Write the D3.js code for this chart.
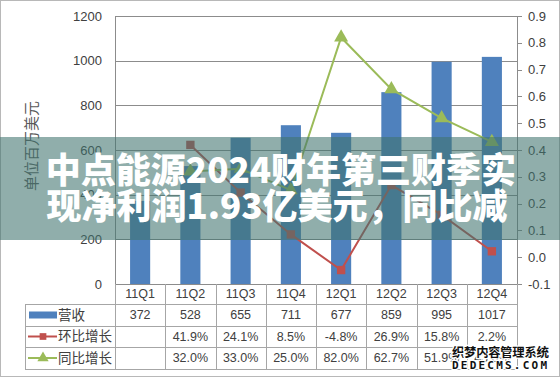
<!DOCTYPE html>
<html>
<head>
<meta charset="utf-8">
<script src="https://cdn.jsdelivr.net/npm/d3@7"></script>
<style>
body{margin:0;background:#fff;}
svg{display:block;}
</style>
</head>
<body>
<div id="chart"></div>
<script>
var categories=["11Q1","11Q2","11Q3","11Q4","12Q1","12Q2","12Q3","12Q4"];
var revenue=[372,528,655,711,677,859,995,1017];
var qoq=[null,0.419,0.241,0.085,-0.048,0.269,0.158,0.022];
var yoy=[null,0.320,0.330,0.250,0.820,0.627,0.519,0.430];
var leftTicks=[0,200,400,600,800,1000,1200];
var rightTicks=[-0.1,0,0.1,0.2,0.3,0.4,0.5,0.6,0.7,0.8,0.9];
var seriesNames=["营收","环比增长","同比增长"];
var titleLines=["中点能源2024财年第三财季实","现净利润1.93亿美元，同比减"];

var W=560,H=378,pl=115,pr=517,pt=16,pb=284;
var colBlue="#4f81bd",colRed="#c0504d",colGreen="#9bbb59";
var grid="#8c8c8c",txt="#404040";
var svg=d3.select("#chart").append("svg").attr("width",W).attr("height",H);
svg.append("rect").attr("x",0.5).attr("y",0.5).attr("width",W-1).attr("height",H-2)
   .attr("fill","#fff").attr("stroke","#b8b8b8");

var x=d3.scaleBand().domain(categories).range([pl,pr]);
var y=d3.scaleLinear().domain([0,1200]).range([pb,pt]);
var y2=d3.scaleLinear().domain([-0.1,0.9]).range([pb,pt]);
var cx=function(c){return x(c)+x.bandwidth()/2;};

// gridlines
svg.selectAll("line.grid").data(leftTicks).enter().append("line")
   .attr("x1",pl).attr("x2",pr).attr("y1",function(d){return Math.round(y(d))+0.5;})
   .attr("y2",function(d){return Math.round(y(d))+0.5;}).attr("stroke",grid).attr("stroke-width",1);
svg.append("line").attr("x1",pl+0.5).attr("x2",pl+0.5).attr("y1",pt).attr("y2",pb).attr("stroke",grid);
svg.append("line").attr("x1",pr+0.5).attr("x2",pr+0.5).attr("y1",pt).attr("y2",pb).attr("stroke",grid);
svg.selectAll("line.rt").data(rightTicks).enter().append("line")
   .attr("x1",pr).attr("x2",pr+5).attr("y1",function(d){return Math.round(y2(d))+0.5;})
   .attr("y2",function(d){return Math.round(y2(d))+0.5;}).attr("stroke",grid);

svg.selectAll("text.lt").data(leftTicks).enter().append("text")
   .attr("x",102).attr("y",function(d){return y(d);}).attr("dy","0.35em")
   .attr("text-anchor","end").attr("font-family","Liberation Sans, sans-serif")
   .attr("font-size",13).attr("fill",txt).text(function(d){return d;});
svg.selectAll("text.rtl").data(rightTicks).enter().append("text")
   .attr("x",528).attr("y",function(d){return y2(d);}).attr("dy","0.35em")
   .attr("font-family","Liberation Sans, sans-serif")
   .attr("font-size",13).attr("fill",txt).text(function(d){return d3.format(".1f")(d).replace("−","-");});

svg.append("text").attr("transform","translate(37,146) rotate(-90)")
   .attr("text-anchor","middle").attr("font-family","Noto Sans CJK SC").attr("font-size",15)
   .attr("fill","#595959").text("单位百万美元");

// bars
svg.selectAll("rect.bar").data(revenue).enter().append("rect")
   .attr("x",function(d,i){return x(categories[i])+x.bandwidth()*0.3;})
   .attr("width",x.bandwidth()*0.4)
   .attr("y",function(d){return y(d);}).attr("height",function(d){return pb-y(d);})
   .attr("fill",colBlue);

// lines
function drawLine(vals,color,marker){
  var pts=vals.map(function(v,i){return {c:categories[i],v:v};}).filter(function(p){return p.v!=null;});
  var line=d3.line().x(function(p){return cx(p.c);}).y(function(p){return y2(p.v);});
  svg.append("path").datum(pts).attr("d",line).attr("fill","none").attr("stroke",color).attr("stroke-width",2);
  svg.selectAll(null).data(pts).enter().append("path")
     .attr("transform",function(p){return "translate("+cx(p.c)+","+y2(p.v)+")";})
     .attr("d",d3.symbol().type(marker).size(marker===d3.symbolSquare?70:85)())
     .attr("fill",color);
}
drawLine(qoq,colRed,d3.symbolSquare);
drawLine(yoy,colGreen,d3.symbolTriangle);

// data table
var rowsY=[284,304,326,347,369];
var tl=25;
svg.selectAll("line.hr").data(rowsY.slice(1)).enter().append("line")
   .attr("x1",tl).attr("x2",pr).attr("y1",function(d){return d+0.5;}).attr("y2",function(d){return d+0.5;})
   .attr("stroke","#a6a6a6");
svg.append("line").attr("x1",tl+0.5).attr("x2",tl+0.5).attr("y1",rowsY[1]).attr("y2",rowsY[4]).attr("stroke","#a6a6a6");
svg.selectAll("line.vr").data(categories).enter().append("line")
   .attr("x1",function(c){return Math.round(x(c))+0.5;}).attr("x2",function(c){return Math.round(x(c))+0.5;})
   .attr("y1",pb).attr("y2",rowsY[4]).attr("stroke","#a6a6a6");
svg.append("line").attr("x1",pr+0.5).attr("x2",pr+0.5).attr("y1",pb).attr("y2",rowsY[4]).attr("stroke","#a6a6a6");

svg.selectAll("text.cat").data(categories).enter().append("text")
   .attr("x",cx).attr("y",(rowsY[0]+rowsY[1])/2).attr("dy","0.35em").attr("text-anchor","middle")
   .attr("font-family","Liberation Sans, sans-serif").attr("font-size",12.5).attr("fill",txt)
   .text(function(c){return c;});
var pct=function(v){return v==null?"":d3.format(".1f")(v*100).replace("−","-")+"%";};
var rowData=[revenue.map(String),qoq.map(pct),yoy.map(pct)];
rowData.forEach(function(r,ri){
  svg.selectAll(null).data(r).enter().append("text")
     .attr("x",function(d,i){return cx(categories[i]);})
     .attr("y",(rowsY[ri+1]+rowsY[ri+2])/2).attr("dy","0.35em").attr("text-anchor","middle")
     .attr("font-family","Liberation Sans, sans-serif").attr("font-size",12.5).attr("fill",txt)
     .text(function(d){return d;});
});
// legend keys
seriesNames.forEach(function(n,i){
  var my=(rowsY[i+1]+rowsY[i+2])/2;
  if(i===0){
    svg.append("rect").attr("x",29).attr("y",my-3.5).attr("width",28).attr("height",7).attr("fill",colBlue);
  }else{
    var c=i===1?colRed:colGreen;
    svg.append("line").attr("x1",28).attr("x2",57).attr("y1",my).attr("y2",my).attr("stroke",c).attr("stroke-width",2);
    svg.append("path").attr("transform","translate(43,"+my+")")
       .attr("d",d3.symbol().type(i===1?d3.symbolSquare:d3.symbolTriangle).size(i===1?45:55)()).attr("fill",c);
  }
  svg.append("text").attr("x",58).attr("y",my).attr("dy","0.36em")
     .attr("font-family","Noto Sans CJK SC").attr("font-size",13.5).attr("fill",txt).text(n);
});

// overlay band with title
svg.append("rect").attr("x",0).attr("y",137).attr("width",W).attr("height",103)
   .attr("fill","rgb(64,115,111)").attr("fill-opacity",0.58);
svg.selectAll("text.title").data(titleLines).enter().append("text")
   .attr("x",function(d,i){return i===0?281:277;}).attr("y",function(d,i){return 183+i*36;})
   .attr("text-anchor","middle").attr("font-family","Noto Sans CJK SC").attr("font-weight",900)
   .attr("font-size",35).attr("fill","#fff").text(function(d){return d;});

// watermark
var wm=svg.append("g").attr("font-family","Noto Sans CJK SC").attr("font-weight","bold")
   .attr("stroke","#fff").attr("stroke-width",2.5).attr("paint-order","stroke").attr("fill","#111");
wm.append("text").attr("x",452).attr("y",357).attr("font-size",12.5).attr("textLength",97).text("织梦内容管理系统");
wm.append("text").attr("x",452).attr("y",369).attr("font-family","DejaVu Sans Mono").attr("font-size",11)
  .attr("textLength",95).text("DEDECMS.COM");
</script>
</body>
</html>
